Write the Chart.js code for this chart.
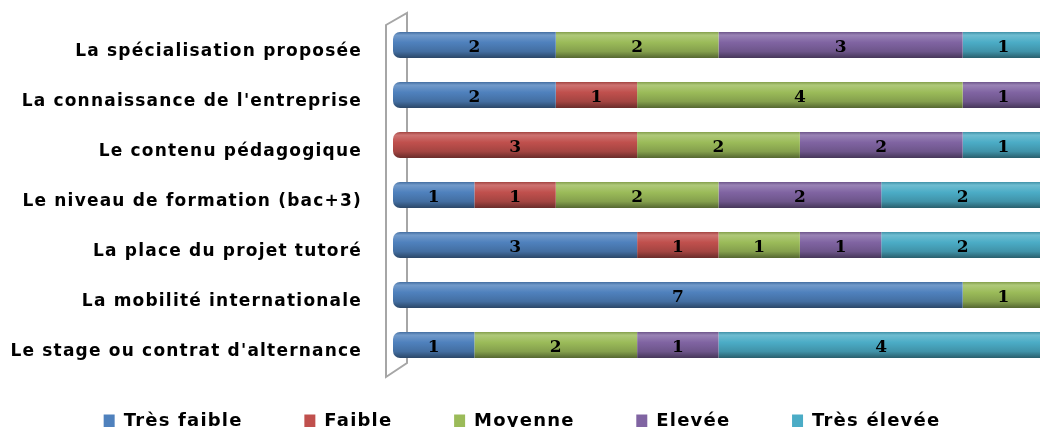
<!DOCTYPE html>
<html>
<head>
<meta charset="utf-8">
<script src="https://cdn.jsdelivr.net/npm/chart.js@4.4.0/dist/chart.umd.min.js"></script>
<style>
  html, body { margin: 0; padding: 0; background: #fff; overflow: hidden; }
  #wrap { width: 1046px; height: 440px; position: relative; }
</style>
</head>
<body>
<div id="wrap"><canvas id="myChart"></canvas></div>
<script>
const ctx = document.getElementById("myChart");

const categories = [
  "La spécialisation proposée",
  "La connaissance de l'entreprise",
  "Le contenu pédagogique",
  "Le niveau de formation (bac+3)",
  "La place du projet tutoré",
  "La mobilité internationale",
  "Le stage ou contrat d'alternance",
];

const tresFaible = [2, 2, 0, 1, 3, 7, 1];
const faible = [0, 1, 3, 1, 1, 0, 0];
const moyenne = [2, 4, 2, 2, 1, 1, 2];
const elevee = [3, 1, 2, 2, 1, 0, 1];
const tresElevee = [1, 0, 1, 2, 2, 0, 4];

const seriesNames = ["Très faible", "Faible", "Moyenne", "Elevée", "Très élevée"];
const colors = ["#4F81BD", "#C0504D", "#9BBB59", "#8064A2", "#4BACC6"];

const values = [tresFaible, faible, moyenne, elevee, tresElevee];

function shade(hex, f) {
  const n = parseInt(hex.slice(1), 16);
  let r = (n >> 16) & 255, g = (n >> 8) & 255, b = n & 255;
  if (f > 0) {
    r += (255 - r) * f; g += (255 - g) * f; b += (255 - b) * f;
  } else {
    r *= 1 + f; g *= 1 + f; b *= 1 + f;
  }
  return "rgb(" + Math.round(r) + "," + Math.round(g) + "," + Math.round(b) + ")";
}

// cylinder look: gradient across the bar thickness
function cylinder(color) {
  return function (c) {
    const chart = c.chart;
    const y = chart.scales.y;
    if (!chart.chartArea || !y) return color;
    const mid = y.getPixelForValue(c.dataIndex);
    const h = 13;
    const g = chart.ctx.createLinearGradient(0, mid - h, 0, mid + h);
    g.addColorStop(0, shade(color, -0.15));
    g.addColorStop(0.12, shade(color, 0.2));
    g.addColorStop(0.4, color);
    g.addColorStop(0.75, shade(color, -0.15));
    g.addColorStop(1, shade(color, -0.45));
    return g;
  };
}

// round only the left end of the first segment of each row
function leftEnd(c) {
  for (let k = 0; k < c.datasetIndex; k++) {
    if (values[k][c.dataIndex]) return 0;
  }
  return { topLeft: 7, bottomLeft: 7, topRight: 0, bottomRight: 0 };
}

// wide lettering, canvas state gets reset on resize so set it each time
const spacing = {
  id: "spacing",
  beforeUpdate(chart) { chart.ctx.letterSpacing = "1.2px"; },
  beforeLayout(chart) { chart.ctx.letterSpacing = "1.2px"; },
  beforeDraw(chart) { chart.ctx.letterSpacing = "1.2px"; },
};

const wall = {
  id: "wall",
  beforeDatasetsDraw(chart) {
    const c = chart.ctx;
    const a = chart.chartArea;
    const x0 = a.left - 7, x1 = a.left + 14;
    c.save();
    c.strokeStyle = "#a6a6a6";
    c.lineWidth = 2;
    c.beginPath();
    c.moveTo(x0, a.top + 5);
    c.lineTo(x1, a.top - 7);
    c.lineTo(x1, a.bottom - 7);
    c.lineTo(x0, a.bottom + 7);
    c.closePath();
    c.stroke();
    c.restore();
  },
};

const valueLabels = {
  id: "valueLabels",
  afterDatasetsDraw(chart) {
    const c = chart.ctx;
    c.save();
    c.letterSpacing = "0px";
    c.font = "bold 17px 'DejaVu Serif'";
    c.fillStyle = "#000";
    c.textAlign = "center";
    c.textBaseline = "middle";
    chart.data.datasets.forEach((ds, i) => {
      chart.getDatasetMeta(i).data.forEach((bar, j) => {
        const v = ds.data[j];
        if (!v) return;
        const x = (bar.base + bar.x) / 2;
        c.fillText(String(v), x, bar.y + 3);
      });
    });
    c.restore();
  },
};

new Chart(ctx, {
  type: "bar",
  data: {
    labels: categories,
    datasets: seriesNames.map((name, i) => ({
      label: name,
      data: values[i],
      backgroundColor: cylinder(colors[i]),
      borderWidth: 0,
      borderSkipped: false,
      borderRadius: leftEnd,
      categoryPercentage: 1,
      barPercentage: 0.52,
    })),
  },
  options: {
    indexAxis: "y",
    responsive: true,
    maintainAspectRatio: false,
    animation: false,
    layout: { padding: { top: 20, right: 2, left: 0, bottom: 0 } },
    scales: {
      x: {
        stacked: true,
        display: false,
        min: 0,
        max: 8,
      },
      y: {
        stacked: true,
        grid: { display: true, color: "rgba(0,0,0,0)", drawTicks: true, tickLength: 31 },
        border: { display: false },
        ticks: {
          color: "#000",
          padding: 0,
          labelOffset: 7,
          font: { family: "'DejaVu Sans'", weight: "bold", size: 17 },
        },
        afterFit(scale) {
          scale.width = 393;
        },
      },
    },
    plugins: {
      tooltip: { enabled: false },
      legend: {
        position: "bottom",
        labels: {
          color: "#000",
          boxWidth: 11,
          boxHeight: 13,
          padding: 42,
          font: { family: "'DejaVu Sans'", weight: "bold", size: 18 },
          generateLabels(chart) {
            return chart.data.datasets.map((ds, i) => ({
              // trailing spaces widen the gap between entries
              text: i < chart.data.datasets.length - 1 ? ds.label + "  \u2009" : ds.label,
              fillStyle: colors[i],
              strokeStyle: colors[i],
              lineWidth: 0,
              datasetIndex: i,
            }));
          },
        },
      },
    },
  },
  plugins: [spacing, wall, valueLabels],
});
</script>
</body>
</html>
